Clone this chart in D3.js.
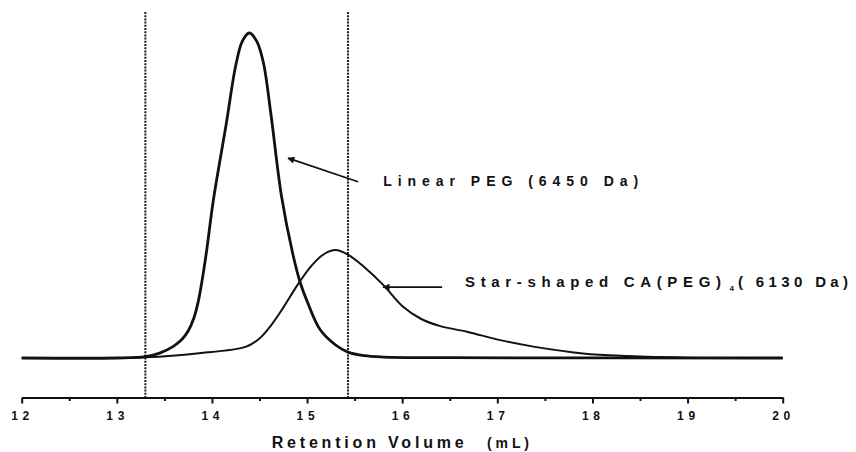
<!DOCTYPE html>
<html>
<head>
<meta charset="utf-8">
<script src="https://cdn.jsdelivr.net/npm/d3@7"></script>
<style>
  html, body { margin: 0; padding: 0; background: #fff; }
  svg { display: block; }
  text { font-family: "Liberation Sans", Arial, sans-serif; fill: #111; }
</style>
</head>
<body>
<svg id="chart" width="856" height="452"></svg>
<script>
// GPC traces: retention volume (mL) vs. detector response (arbitrary units)
const linearVolume = [12.0, 13.0, 13.3, 13.45, 13.59, 13.68, 13.75, 13.81, 13.857, 13.9, 13.945, 14.015, 14.15, 14.25, 14.32, 14.393,
                      14.47, 14.54, 14.62, 14.73, 14.85, 14.93, 15.0, 15.14, 15.3, 15.43, 15.6, 15.8, 16.5, 20.0];
const linearSignal = [0, 0, 0.4, 1.5, 3.5, 5.6, 8.3, 12.3, 17.5, 24.5, 33.2, 48.6, 72, 90, 97.5, 100,
                      97.5, 91, 75, 50, 32, 23, 17.5, 8.6, 4.0, 1.8, 0.7, 0.3, 0.1, 0];

const starVolume = [12.0, 13.0, 13.3, 13.84, 14.36, 14.5, 14.61, 14.75, 14.9, 15.05, 15.18, 15.3, 15.43, 15.6,
                    15.8, 16.0, 16.2, 16.4, 16.68, 17.03, 17.38, 17.9, 18.36, 19.0, 20.0];
const starSignal = [0, 0, 0.2, 1.4, 3.5, 6.0, 9.6, 15.5, 22.5, 28.5, 32, 33.2, 31.8, 28,
                    22.5, 16.0, 12.0, 9.8, 8.1, 5.5, 3.5, 1.4, 0.6, 0.1, 0];

// Integration window limits (mL)
const windowLimits = [13.3, 15.43];

const majorTicks = [12, 13, 14, 15, 16, 17, 18, 19, 20];
const minorTicks = [12.5, 13.5, 14.5, 15.5, 16.5, 17.5, 18.5, 19.5];

const labels = [
  { name: "Linear PEG (6450 Da)", at: [15.80, 52.9], tail: [15.536, 54.2], head: [14.80, 61.5] },
  { name: "Star-shaped CA(PEG)", sub: "4", after: "( 6130 Da)", at: [16.66, 21.9], tail: [16.42, 21.8], head: [15.80, 21.8] }
];

const svg = d3.select("#chart");

const x = d3.scaleLinear().domain([12, 20]).range([21.7, 782.7]);
const y = d3.scaleLinear().domain([0, 100]).range([358, 33]);
const axisY = 397.5;

svg.append("defs").append("marker")
  .attr("id", "head")
  .attr("viewBox", "0 0 10 10")
  .attr("refX", 9).attr("refY", 5)
  .attr("markerUnits", "userSpaceOnUse")
  .attr("markerWidth", 11).attr("markerHeight", 7)
  .attr("orient", "auto")
  .append("path").attr("d", "M0,0 L10,5 L0,10 Z").attr("fill", "#111");

// dotted window lines
svg.append("g").selectAll("line").data(windowLimits).join("line")
  .attr("x1", d => x(d)).attr("x2", d => x(d))
  .attr("y1", 12).attr("y2", axisY)
  .attr("stroke", "#1a1a1a").attr("stroke-width", 2)
  .attr("stroke-dasharray", "2,1.2");

// x axis: major ticks
const axisMajor = d3.axisBottom(x).tickValues(majorTicks).tickSize(6).tickSizeOuter(0).tickFormat(d3.format("d"));
const gx = svg.append("g").attr("transform", `translate(0,${axisY})`).call(axisMajor);
gx.select(".domain").attr("stroke", "#111").attr("stroke-width", 2);
gx.selectAll(".tick line").attr("stroke", "#111").attr("stroke-width", 2);
gx.selectAll(".tick text")
  .attr("y", 14).attr("dy", "0.71em")
  .attr("dx", -2)
  .style("font-family", "'Liberation Sans', Arial, sans-serif")
  .style("font-size", "12px").style("font-weight", "bold")
  .attr("fill", "#111")
  .attr("textLength", 18).attr("lengthAdjust", "spacing");

// minor ticks
const axisMinor = d3.axisBottom(x).tickValues(minorTicks).tickSize(3.5).tickSizeOuter(0).tickFormat("");
const gm = svg.append("g").attr("transform", `translate(0,${axisY})`).call(axisMinor);
gm.select(".domain").remove();
gm.selectAll(".tick line").attr("stroke", "#111").attr("stroke-width", 2);

// axis title
const title = svg.append("text")
  .attr("x", 271.7).attr("y", 448)
  .style("font-size", "16px").style("font-weight", "bold");
title.append("tspan").text("Retention Volume")
  .attr("textLength", 192).attr("lengthAdjust", "spacing");
title.append("tspan").text("(mL)").style("font-size", "14px")
  .attr("x", 487)
  .attr("textLength", 42).attr("lengthAdjust", "spacing");

// traces
const line = d3.line().x(d => x(d[0])).y(d => y(d[1])).curve(d3.curveCatmullRom.alpha(0.5));

svg.append("path")
  .datum(starVolume.map((v, i) => [v, starSignal[i]]))
  .attr("d", line)
  .attr("fill", "none").attr("stroke", "#111").attr("stroke-width", 2);

svg.append("path")
  .datum(linearVolume.map((v, i) => [v, linearSignal[i]]))
  .attr("d", line)
  .attr("fill", "none").attr("stroke", "#111").attr("stroke-width", 2.8);

// annotations
labels.forEach((lab, i) => {
  svg.append("line")
    .attr("x1", x(lab.tail[0])).attr("y1", y(lab.tail[1]))
    .attr("x2", x(lab.head[0])).attr("y2", y(lab.head[1]))
    .attr("stroke", "#111").attr("stroke-width", 1.6)
    .attr("marker-end", "url(#head)");

  const t = svg.append("text")
    .attr("x", x(lab.at[0])).attr("y", y(lab.at[1]))
    .style("font-size", i === 0 ? "14px" : "15px").style("font-weight", "bold");
  if (i === 0) {
    t.append("tspan").text(lab.name).attr("textLength", 255).attr("lengthAdjust", "spacing");
  } else {
    t.append("tspan").text(lab.name).attr("textLength", 256).attr("lengthAdjust", "spacing");
    t.append("tspan").text(lab.sub).style("font-size", "8px").attr("x", 729.5).attr("dy", 4);
    t.append("tspan").text(lab.after).attr("dy", -4).attr("x", 738)
      .attr("textLength", 110).attr("lengthAdjust", "spacing");
  }
});
</script>
</body>
</html>
